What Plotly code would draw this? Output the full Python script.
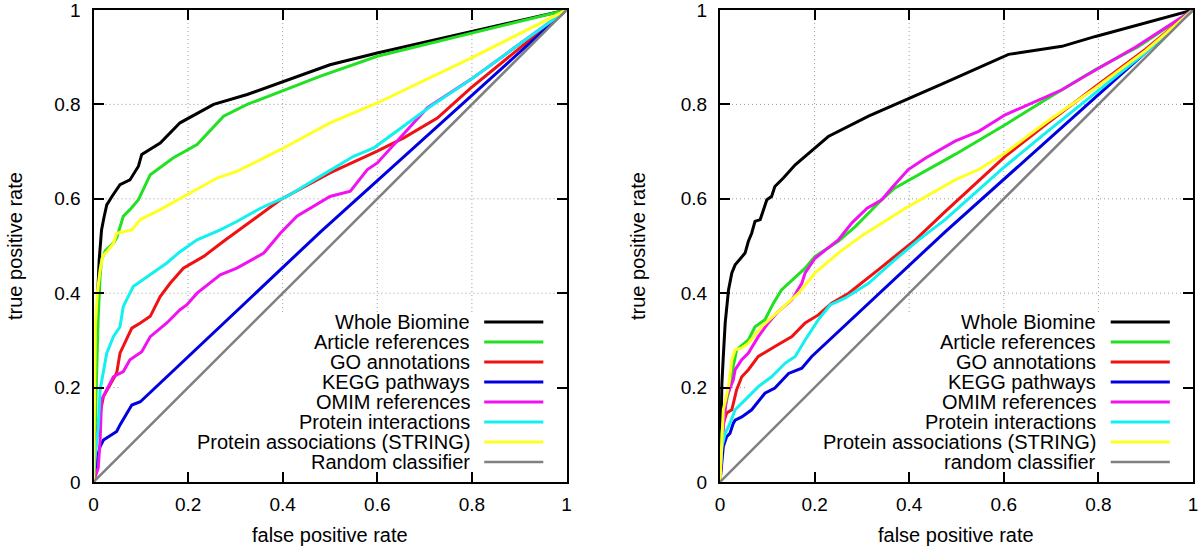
import plotly.graph_objects as go

# ---------------- data ----------------
TICKS = [0, 0.2, 0.4, 0.6, 0.8, 1]
TICK_LABELS = ["0", "0.2", "0.4", "0.6", "0.8", "1"]

X_TITLE = "false positive rate"
Y_TITLE = "true positive rate"

SERIES_LEFT = ["Whole Biomine", "Article references", "GO annotations", "KEGG pathways",
               "OMIM references", "Protein interactions", "Protein associations (STRING)",
               "Random classifier"]
SERIES_RIGHT = ["Whole Biomine", "Article references", "GO annotations", "KEGG pathways",
                "OMIM references", "Protein interactions", "Protein associations (STRING)",
                "random classifier"]

# ---- left panel ----
L_WHOLE_X = [0, 0.002, 0.004, 0.006, 0.009, 0.012, 0.014, 0.017, 0.022, 0.028, 0.039, 0.056, 0.077,
             0.095, 0.102, 0.141, 0.183, 0.254, 0.325, 0.395, 0.5, 0.6, 0.8, 1]
L_WHOLE_Y = [0, 0.1, 0.2, 0.3, 0.4, 0.47, 0.5, 0.534, 0.56, 0.587, 0.605, 0.63, 0.64,
             0.669, 0.694, 0.718, 0.761, 0.8, 0.821, 0.846, 0.884, 0.909, 0.955, 1]

L_ART_X = [0, 0.003, 0.006, 0.008, 0.01, 0.014, 0.017, 0.025, 0.035, 0.042, 0.049, 0.063, 0.077,
           0.095, 0.12, 0.169, 0.219, 0.275, 0.325, 0.48, 0.6, 0.8, 1]
L_ART_Y = [0, 0.1, 0.2, 0.3, 0.35, 0.435, 0.471, 0.49, 0.499, 0.506, 0.517, 0.563, 0.577,
           0.598, 0.651, 0.687, 0.715, 0.775, 0.8, 0.86, 0.902, 0.951, 1]

L_GO_X = [0, 0.005, 0.01, 0.014, 0.021, 0.035, 0.049, 0.056, 0.081, 0.099, 0.12, 0.141, 0.162,
          0.19, 0.233, 0.275, 0.395, 0.5, 0.6, 0.656, 0.727, 0.798, 1]
L_GO_Y = [0, 0.08, 0.12, 0.146, 0.181, 0.206, 0.231, 0.273, 0.326, 0.337, 0.351, 0.393, 0.421,
          0.453, 0.478, 0.51, 0.598, 0.655, 0.701, 0.729, 0.771, 0.835, 1]

L_KEGG_X = [0, 0.005, 0.01, 0.014, 0.021, 0.049, 0.056, 0.081, 0.099, 0.48, 1]
L_KEGG_Y = [0, 0.02, 0.06, 0.075, 0.089, 0.107, 0.121, 0.163, 0.17, 0.53, 1]

L_OMIM_X = [0, 0.01, 0.014, 0.017, 0.042, 0.063, 0.077, 0.102, 0.12, 0.155, 0.183, 0.197, 0.219,
            0.268, 0.303, 0.36, 0.381, 0.395, 0.43, 0.5, 0.543, 0.579, 0.6, 0.656, 0.706, 0.798, 1]
L_OMIM_Y = [0, 0.03, 0.089, 0.174, 0.223, 0.234, 0.259, 0.276, 0.308, 0.337, 0.365, 0.375, 0.4,
            0.439, 0.453, 0.485, 0.51, 0.527, 0.563, 0.605, 0.616, 0.662, 0.676, 0.739, 0.793, 0.853, 1]

L_PPI_X = [0, 0.004, 0.01, 0.014, 0.028, 0.042, 0.056, 0.063, 0.084, 0.113, 0.155, 0.183, 0.219,
           0.268, 0.303, 0.353, 0.409, 0.48, 0.55, 0.593, 0.656, 0.713, 0.798, 1]
L_PPI_Y = [0, 0.06, 0.117, 0.195, 0.273, 0.308, 0.329, 0.372, 0.414, 0.435, 0.464, 0.488, 0.513,
           0.534, 0.552, 0.58, 0.605, 0.648, 0.69, 0.708, 0.754, 0.796, 0.853, 1]

L_STRING_X = [0, 0.002, 0.004, 0.008, 0.014, 0.02, 0.03, 0.042, 0.049, 0.081, 0.099, 0.141, 0.204,
              0.261, 0.303, 0.395, 0.5, 0.6, 0.8, 1]
L_STRING_Y = [0, 0.2, 0.33, 0.4, 0.45, 0.48, 0.49, 0.505, 0.527, 0.534, 0.556, 0.577, 0.612,
              0.644, 0.658, 0.704, 0.761, 0.803, 0.899, 1]

L_RAND_X = [0, 1]
L_RAND_Y = [0, 1]

# ---- right panel ----
R_WHOLE_X = [0, 0.002, 0.004, 0.007, 0.011, 0.018, 0.025, 0.032, 0.053, 0.06, 0.067, 0.074, 0.085,
             0.092, 0.099, 0.109, 0.116, 0.134, 0.159, 0.201, 0.229, 0.314, 0.392, 0.476, 0.61,
             0.723, 0.794, 0.85, 1]
R_WHOLE_Y = [0, 0.1, 0.209, 0.266, 0.337, 0.407, 0.443, 0.46, 0.485, 0.51, 0.527, 0.552, 0.556,
             0.577, 0.598, 0.605, 0.626, 0.644, 0.672, 0.708, 0.732, 0.775, 0.81, 0.846, 0.906,
             0.923, 0.944, 0.959, 1]

R_ART_X = [0, 0.004, 0.011, 0.021, 0.028, 0.035, 0.06, 0.074, 0.095, 0.113, 0.13, 0.18, 0.201,
           0.25, 0.286, 0.342, 0.37, 0.427, 0.497, 0.603, 0.688, 0.794, 0.885, 1]
R_ART_Y = [0, 0.103, 0.16, 0.202, 0.245, 0.28, 0.301, 0.329, 0.344, 0.379, 0.407, 0.453, 0.478,
           0.51, 0.541, 0.598, 0.623, 0.655, 0.694, 0.757, 0.81, 0.874, 0.923, 1]

R_GO_X = [0, 0.004, 0.007, 0.014, 0.025, 0.035, 0.046, 0.06, 0.081, 0.116, 0.152, 0.18, 0.208,
          0.236, 0.272, 0.335, 0.377, 0.413, 0.476, 0.603, 0.688, 0.794, 0.9, 1]
R_GO_Y = [0, 0.089, 0.124, 0.146, 0.153, 0.195, 0.223, 0.238, 0.266, 0.287, 0.308, 0.337, 0.354,
          0.379, 0.4, 0.45, 0.485, 0.513, 0.573, 0.69, 0.757, 0.838, 0.917, 1]

R_KEGG_X = [0, 0.007, 0.014, 0.021, 0.028, 0.032, 0.046, 0.067, 0.095, 0.116, 0.145, 0.173, 0.194, 0.476, 1]
R_KEGG_Y = [0, 0.075, 0.096, 0.103, 0.124, 0.131, 0.138, 0.153, 0.188, 0.199, 0.23, 0.241, 0.266, 0.53, 1]

R_OMIM_X = [0, 0.002, 0.007, 0.014, 0.028, 0.032, 0.046, 0.06, 0.081, 0.102, 0.123, 0.152, 0.173,
            0.18, 0.201, 0.25, 0.279, 0.311, 0.342, 0.363, 0.398, 0.434, 0.497, 0.547, 0.603,
            0.723, 0.772, 0.829, 0.878, 1]
R_OMIM_Y = [0, 0.047, 0.117, 0.181, 0.216, 0.238, 0.259, 0.273, 0.308, 0.337, 0.361, 0.386, 0.421,
            0.443, 0.474, 0.513, 0.549, 0.58, 0.598, 0.623, 0.662, 0.686, 0.722, 0.743, 0.778,
            0.831, 0.86, 0.892, 0.921, 1]

R_PPI_X = [0, 0.001, 0.004, 0.011, 0.021, 0.032, 0.06, 0.081, 0.109, 0.138, 0.159, 0.18, 0.208,
           0.233, 0.265, 0.314, 0.37, 0.42, 0.476, 0.603, 0.688, 0.794, 0.9, 1]
R_PPI_Y = [0, 0.032, 0.075, 0.103, 0.124, 0.153, 0.181, 0.202, 0.223, 0.252, 0.266, 0.301, 0.344,
           0.375, 0.39, 0.421, 0.471, 0.513, 0.556, 0.669, 0.739, 0.825, 0.91, 1]

R_STRING_X = [0, 0.004, 0.007, 0.018, 0.025, 0.032, 0.046, 0.06, 0.088, 0.123, 0.166, 0.201, 0.25,
              0.3, 0.392, 0.497, 0.547, 0.603, 0.688, 0.794, 0.9, 1]
R_STRING_Y = [0, 0.096, 0.153, 0.202, 0.259, 0.28, 0.284, 0.294, 0.329, 0.361, 0.4, 0.443, 0.485,
              0.522, 0.58, 0.64, 0.662, 0.697, 0.761, 0.835, 0.914, 1]

R_RAND_X = [0, 1]
R_RAND_Y = [0, 1]

# ---------------- styling ----------------
COLORS = ["#000000", "#22e022", "#f01212", "#0000e0", "#f012f0", "#12f0f0", "#ffff22", "#808080"]
WIDTHS = [3, 3, 3, 3, 3, 3, 3, 2.5]
FONT = "Liberation Sans, Arial, Helvetica, sans-serif"

left_xy = [(L_WHOLE_X, L_WHOLE_Y), (L_ART_X, L_ART_Y), (L_GO_X, L_GO_Y), (L_KEGG_X, L_KEGG_Y),
           (L_OMIM_X, L_OMIM_Y), (L_PPI_X, L_PPI_Y), (L_STRING_X, L_STRING_Y), (L_RAND_X, L_RAND_Y)]
right_xy = [(R_WHOLE_X, R_WHOLE_Y), (R_ART_X, R_ART_Y), (R_GO_X, R_GO_Y), (R_KEGG_X, R_KEGG_Y),
            (R_OMIM_X, R_OMIM_Y), (R_PPI_X, R_PPI_Y), (R_STRING_X, R_STRING_Y), (R_RAND_X, R_RAND_Y)]

fig = go.Figure()
panels = [("x", "y", SERIES_LEFT, left_xy), ("x2", "y2", SERIES_RIGHT, right_xy)]

shapes = []
annotations = []
LEG_Y0 = 0.339
LEG_DY = 0.0424
for xa, ya, names, data in panels:
    for i, ((xs, ys), name) in enumerate(zip(data, names)):
        fig.add_trace(go.Scatter(x=xs, y=ys, mode="lines", name=name,
                                 line=dict(color=COLORS[i], width=WIDTHS[i]),
                                 xaxis=xa, yaxis=ya, showlegend=False, hoverinfo="skip"))
        ly = LEG_Y0 - i * LEG_DY
        annotations.append(dict(x=0.80, y=ly, xref=xa, yref=ya, text=name, showarrow=False,
                                xanchor="right", yanchor="middle",
                                font=dict(size=20, color="black", family=FONT)))
        shapes.append(dict(type="line", xref=xa, yref=ya, x0=0.826, x1=0.951, y0=ly, y1=ly,
                           line=dict(color=COLORS[i], width=WIDTHS[i]), layer="above"))
    # dotted grid (partly hidden by the key area)
    grid = dict(color="#9a9a9a", width=1, dash="1px,3px")
    for t in TICKS[1:-1]:
        shapes.append(dict(type="line", xref=xa, yref=ya, x0=t, x1=t, y0=0.36, y1=1,
                           line=grid, layer="below"))
    for t in TICKS[2:-1]:
        shapes.append(dict(type="line", xref=xa, yref=ya, x0=0, x1=1, y0=t, y1=t,
                           line=grid, layer="below"))
    shapes.append(dict(type="line", xref=xa, yref=ya, x0=0, x1=0.056, y0=TICKS[1], y1=TICKS[1],
                       line=grid, layer="below"))

# axis titles
for xc, yc in [(0.275, 0.021), (0.797, 0.021)]:
    annotations.append(dict(x=xc, y=yc, xref="paper", yref="paper", text=X_TITLE, showarrow=False,
                            xanchor="center", yanchor="middle",
                            font=dict(size=20, color="black", family=FONT)))
for xc, yc in [(0.0125, 0.5495), (0.5317, 0.5495)]:
    annotations.append(dict(x=xc, y=yc, xref="paper", yref="paper", text=Y_TITLE, showarrow=False,
                            textangle=-90, xanchor="center", yanchor="middle",
                            font=dict(size=20, color="black", family=FONT)))

axis_common = dict(range=[0, 1], tickvals=TICKS, ticktext=TICK_LABELS, ticks="inside",
                   ticklen=10, tickwidth=2, tickcolor="black", showline=True, linecolor="black",
                   linewidth=2, mirror="ticks", showgrid=False, zeroline=False, automargin=False,
                   ticklabeloverflow="allow",
                   tickfont=dict(size=19, color="black", family=FONT), fixedrange=True)

Y_DOM = [64 / 546, 536 / 546]
fig.update_layout(
    width=1200, height=546,
    margin=dict(l=0, r=0, t=0, b=0, autoexpand=False),
    paper_bgcolor="white", plot_bgcolor="white",
    showlegend=False,
    xaxis=dict(domain=[93.5 / 1200, 566.5 / 1200], anchor="y", ticklabelstandoff=4, **axis_common),
    yaxis=dict(domain=Y_DOM, anchor="x", ticklabelstandoff=7, **axis_common),
    xaxis2=dict(domain=[720 / 1200, 1193 / 1200], anchor="y2", ticklabelstandoff=4, **axis_common),
    yaxis2=dict(domain=Y_DOM, anchor="x2", ticklabelstandoff=7, **axis_common),
    shapes=shapes,
    annotations=annotations,
)

fig.write_html("out.html",
               config={"displayModeBar": False, "staticPlot": True},
               post_script="document.body.style.margin='0px';document.body.style.overflow='hidden';")
